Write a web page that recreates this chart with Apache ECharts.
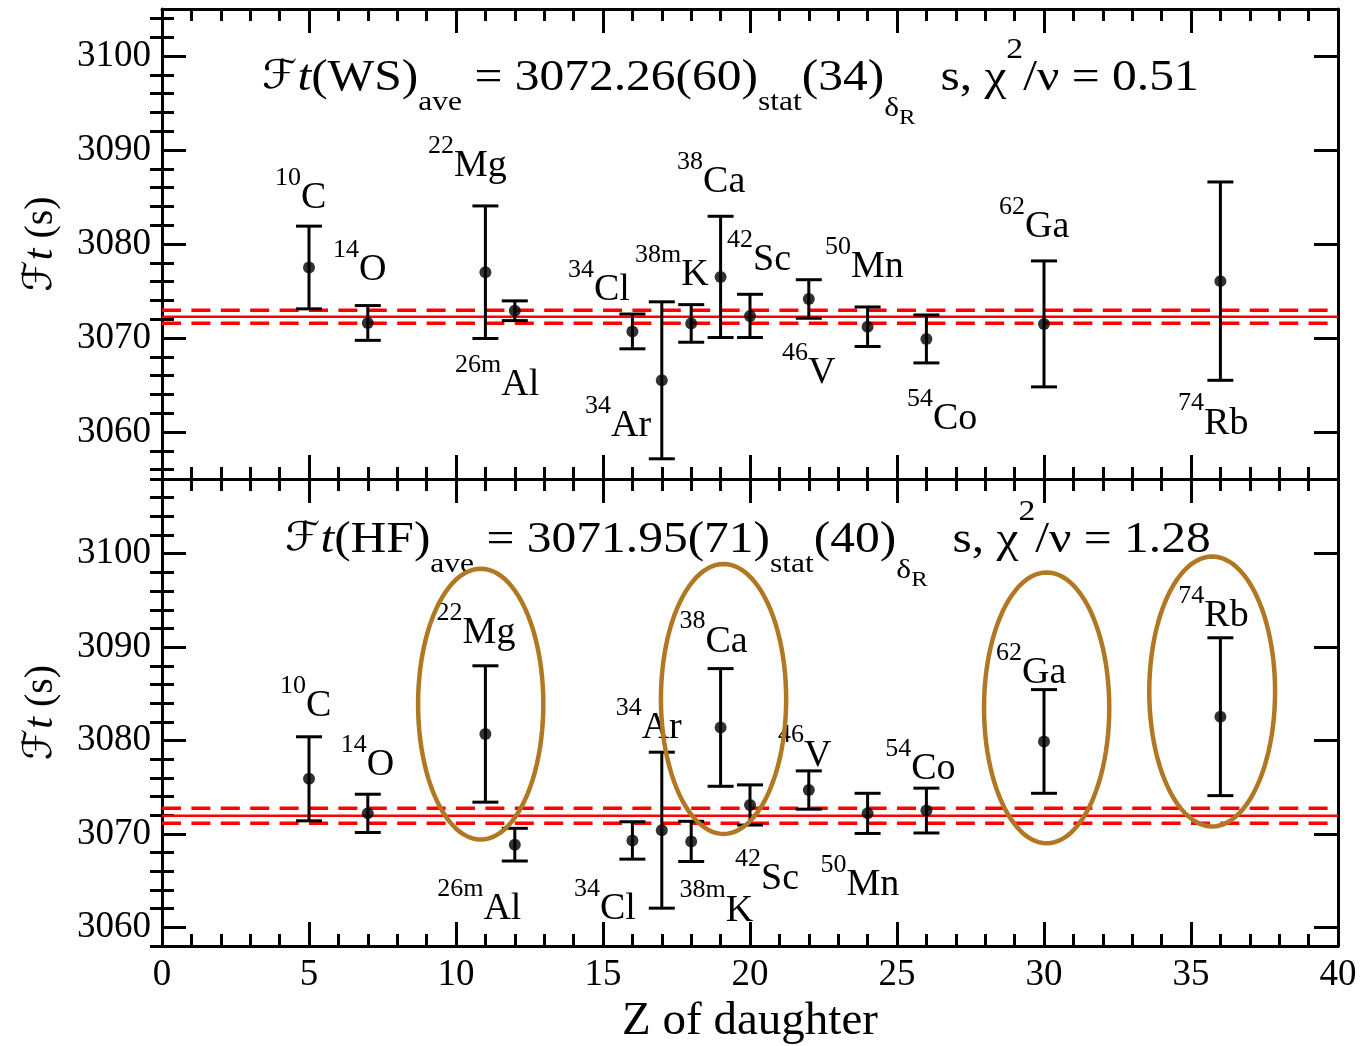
<!DOCTYPE html>
<html><head><meta charset="utf-8">
<script src="https://cdn.jsdelivr.net/npm/echarts@6/dist/echarts.min.js"></script>
<style>html,body{margin:0;padding:0;background:#fff}#c{width:1365px;height:1046px}</style>
</head><body><div id="c"></div>
<script>
// ---------------- data ----------------
const massNumbers = ['10','14','22','26m','34','34','38m','38','42','46','50','54','62','74'];
const elements    = ['C','O','Mg','Al','Cl','Ar','K','Ca','Sc','V','Mn','Co','Ga','Rb'];
const zDaughter   = [5, 7, 11, 12, 16, 17, 18, 19, 20, 22, 24, 26, 30, 36];

// Ft (WS) values and uncertainties (s)
const ftWS  = [3077.5, 3071.6, 3077.0, 3072.9, 3070.7, 3065.5, 3071.55, 3076.5, 3072.35, 3074.15, 3071.2, 3069.9, 3071.5, 3076.05];
const errWS = [4.4, 1.85, 7.05, 1.05, 1.85, 8.35, 2.0, 6.45, 2.3, 2.05, 2.1, 2.55, 6.7, 10.55];
// Ft (HF) values and uncertainties (s)
const ftHF  = [3075.9, 3072.2, 3080.7, 3068.85, 3069.3, 3070.4, 3069.2, 3081.4, 3073.1, 3074.7, 3072.2, 3072.5, 3079.9, 3082.55];
const errHF = [4.5, 2.05, 7.3, 1.75, 2.0, 8.35, 2.15, 6.3, 2.15, 2.05, 2.15, 2.4, 5.55, 8.45];

// averages
const aveWS = 3072.26, aveErrWS = 0.69;
const aveHF = 3071.95, aveErrHF = 0.81;

// label anchor points (Z, Ft) for the nuclide names
const labelPosWS = [[3.84,3085.1],[5.82,3077.4],[9.05,3088.5],[9.97,3065.2],[13.81,3075.3],[14.39,3060.8],[16.09,3076.9],[17.52,3086.8],[19.22,3078.5],[21.09,3066.45],[22.55,3077.8],[25.34,3061.55],[28.47,3082.0],[34.56,3061.1]];
const labelPosHF = [[4.01,3083.9],[6.08,3077.6],[9.34,3091.7],[9.36,3062.2],[14.01,3062.2],[15.43,3081.5],[17.6,3062.0],[17.6,3090.8],[19.49,3065.4],[20.95,3078.6],[22.4,3064.7],[24.6,3077.2],[28.37,3087.45],[34.57,3093.5]];

// highlight ellipses (HF panel): centre Z, centre Ft, half-width (Z), half-height (s)
const ellipseZ     = [10.84, 19.10, 30.09, 35.72];
const ellipseFt    = [3083.9, 3084.45, 3083.5, 3085.25];
const ellipseHalfZ = [2.13, 2.13, 2.13, 2.14];
const ellipseHalfFt= [14.5, 14.45, 14.5, 14.45];

// axes
const xTickLabels = [0, 5, 10, 15, 20, 25, 30, 35, 40];
const yTickLabels = [3060, 3070, 3080, 3090, 3100];
const rangeWS = [3055, 3105];
const rangeHF = [3058, 3108];

// ---------------- chart ----------------
const SERIF = '"Liberation Serif","Times New Roman",serif';
const BLACK = '#000';
function minorTicks(r){ const out=[]; for(let v=Math.ceil(r[0]/2)*2; v<=r[1]; v+=2){ if(v%10!==0) out.push(v);} return out; }

function xAx(grid, pos, labels){
  const a = {type:'value', gridIndex:grid, position:pos, min:xTickLabels[0], max:xTickLabels[xTickLabels.length-1], interval:5,
    axisLine:{show:true, onZero:false, lineStyle:{color:BLACK, width:3}},
    axisTick:{show:true, inside:true, length:24, lineStyle:{color:BLACK, width:3}},
    minorTick:{show:true, splitNumber:5, length:12, lineStyle:{color:BLACK, width:3}},
    axisLabel:{show:labels, margin:11, fontFamily:SERIF, fontSize:37, color:BLACK, formatter:v=>String(v)},
    splitLine:{show:false}, minorSplitLine:{show:false}};
  if (labels){ a.name='Z of daughter'; a.nameLocation='middle'; a.nameGap=52; a.nameTextStyle={fontFamily:SERIF, fontSize:47, color:BLACK}; }
  return a;
}
function yMajor(grid, pos, range, labels){
  const a = {type:'value', gridIndex:grid, position:pos, min:range[0], max:range[1],
    axisLine:{show:true, onZero:false, lineStyle:{color:BLACK, width:3}},
    axisTick:{show:true, inside:true, length:24, customValues:yTickLabels, lineStyle:{color:BLACK, width:3}},
    axisLabel:{show:labels, customValues:yTickLabels, margin:11, fontFamily:SERIF, fontSize:37, color:BLACK, formatter:v=>String(v)},
    splitLine:{show:false}};
  if (labels){
    a.name='{f|ℱ}{t|t}{n| (s)}'; a.nameLocation='middle'; a.nameRotate=90; a.nameGap=100;
    a.nameTextStyle={fontFamily:SERIF, fontSize:40, color:BLACK, rich:{
      f:{fontFamily:'"DejaVu Serif","DejaVu Sans",serif', fontSize:40, color:BLACK},
      t:{fontFamily:SERIF, fontStyle:'italic', fontSize:42, color:BLACK},
      n:{fontFamily:SERIF, fontSize:40, color:BLACK}}};
  }
  return a;
}
function yMinor(grid, pos, range){
  return {type:'value', gridIndex:grid, position:pos, min:range[0], max:range[1],
    axisLine:{show:false}, axisLabel:{show:false}, splitLine:{show:false},
    axisTick:{show:true, inside:true, length:12, customValues:minorTicks(range), lineStyle:{color:BLACK, width:3}}};
}

function errorBars(xi, yi, vals, errs){
  return {type:'custom', xAxisIndex:xi, yAxisIndex:yi, z:5, silent:true,
    data: zDaughter.map((z,i)=>[z, vals[i]-errs[i], vals[i]+errs[i]]),
    renderItem(params, api){
      const x=api.value(0), lo=api.value(1), hi=api.value(2);
      const a=api.coord([x,hi]), b=api.coord([x,lo]); const w=13;
      const st={stroke:BLACK, lineWidth:3};
      return {type:'group', children:[
        {type:'line', shape:{x1:a[0],y1:a[1],x2:b[0],y2:b[1]}, style:st},
        {type:'line', shape:{x1:a[0]-w,y1:a[1],x2:a[0]+w,y2:a[1]}, style:st},
        {type:'line', shape:{x1:b[0]-w,y1:b[1],x2:b[0]+w,y2:b[1]}, style:st}]};
    }};
}
function points(xi, yi, vals){
  return {type:'scatter', xAxisIndex:xi, yAxisIndex:yi, z:6, silent:true, symbol:'circle', symbolSize:12,
    itemStyle:{color:BLACK}, data: zDaughter.map((z,i)=>[z, vals[i]])};
}
function hline(xi, yi, v, dashed){
  return {type:'line', xAxisIndex:xi, yAxisIndex:yi, z:3, silent:true, showSymbol:false, symbol:'none',
    data:[[xTickLabels[0], v],[xTickLabels[xTickLabels.length-1], v]],
    lineStyle: dashed ? {color:'#ff0000', width:3.5, type:[19,10.4]} : {color:'#ff0000', width:2.5}};
}
const labelRich = {
  e:{fontFamily:SERIF, fontSize:38, lineHeight:44, height:44, fill:BLACK},
  ms:{fontFamily:SERIF, fontSize:26, lineHeight:4, height:4, verticalAlign:'top', fill:BLACK}
};
function labels(xi, yi, pos){
  return {type:'custom', xAxisIndex:xi, yAxisIndex:yi, z:7, silent:true,
    data: pos.map((p,i)=>[p[0], p[1], i]),
    renderItem(params, api){
      const i=api.value(2); const c=api.coord([api.value(0), api.value(1)]);
      return {type:'text', x:c[0], y:c[1]+2, style:{text:'{ms|'+massNumbers[i]+'}{e|'+elements[i]+'}', rich:labelRich, align:'left', verticalAlign:'middle', fill:BLACK}};
    }};
}
function ellipses(xi, yi){
  return {type:'custom', xAxisIndex:xi, yAxisIndex:yi, z:8, silent:true,
    data: ellipseZ.map((z,i)=>[z, ellipseFt[i], ellipseHalfZ[i], ellipseHalfFt[i]]),
    renderItem(params, api){
      const c=api.coord([api.value(0), api.value(1)]); const s=api.size([api.value(2), api.value(3)]);
      const pts=[]; for(let k=0;k<=96;k++){const t=k/96*2*Math.PI; pts.push([c[0]+s[0]*Math.cos(t), c[1]+s[1]*Math.sin(t)]);}
      return {type:'polygon', shape:{points:pts}, style:{fill:'none', stroke:'#b07823', lineWidth:4.5}};
    }};
}

// title rich text
const MAIN = 44;
const titleRich = {
  m:{fontFamily:SERIF, fontSize:MAIN, lineHeight:100, height:100, fill:BLACK},
  F:{fontFamily:'"DejaVu Serif","DejaVu Sans",serif', fontSize:40, lineHeight:100, height:100, fill:BLACK},
  it:{fontFamily:SERIF, fontStyle:'italic', fontSize:MAIN, lineHeight:100, height:100, fill:BLACK},
  sub:{fontFamily:SERIF, fontSize:28, lineHeight:50, height:50, verticalAlign:'bottom', fill:BLACK},
  dl:{fontFamily:SERIF, fontSize:28, lineHeight:38, height:38, verticalAlign:'bottom', fill:BLACK},
  r:{fontFamily:SERIF, fontSize:22, lineHeight:20, height:20, verticalAlign:'bottom', fill:BLACK},
  sup:{fontFamily:SERIF, fontSize:30, lineHeight:44, height:44, verticalAlign:'top', fill:BLACK}
};
function titleText(tag, ave, stat, dr, chi){
  return '{F|ℱ}{it|t}{m|('+tag+')}{sub|ave}{m| = '+ave+'('+stat+')}{sub|stat}{m|('+dr+')}{dl|δ}{r|R}{m|  s, χ}{sup|2}{m|/ν = '+chi+'}';
}

const option = {
  backgroundColor:'#fff',
  animation:false,
  grid:[{left:162, right:27, top:9, height:470},{left:162, right:27, top:479, height:470}],
  xAxis:[xAx(0,'bottom',false), xAx(0,'top',false), xAx(1,'bottom',true), xAx(1,'top',false)],
  yAxis:[yMajor(0,'left',rangeWS,true), yMinor(0,'left',rangeWS), yMajor(0,'right',rangeWS,false), yMinor(0,'right',rangeWS),
         yMajor(1,'left',rangeHF,true), yMinor(1,'left',rangeHF), yMajor(1,'right',rangeHF,false), yMinor(1,'right',rangeHF)],
  graphic:[
    {type:'text', x:262, y:28, scaleX:1.125, silent:true, style:{text:titleText('WS','3072.26','60','34','0.51'), rich:titleRich, align:'left', verticalAlign:'top', fill:BLACK}},
    {type:'text', x:285, y:490, scaleX:1.125, silent:true, style:{text:titleText('HF','3071.95','71','40','1.28'), rich:titleRich, align:'left', verticalAlign:'top', fill:BLACK}}
  ],
  series:[
    hline(0,0,aveWS,false), hline(0,0,aveWS+aveErrWS,true), hline(0,0,aveWS-aveErrWS,true),
    errorBars(0,0,ftWS,errWS), points(0,0,ftWS), labels(0,0,labelPosWS),
    hline(2,4,aveHF,false), hline(2,4,aveHF+aveErrHF,true), hline(2,4,aveHF-aveErrHF,true),
    errorBars(2,4,ftHF,errHF), points(2,4,ftHF), labels(2,4,labelPosHF), ellipses(2,4)
  ]
};
const chart = echarts.init(document.getElementById('c'));
chart.setOption(option);
</script></body></html>
